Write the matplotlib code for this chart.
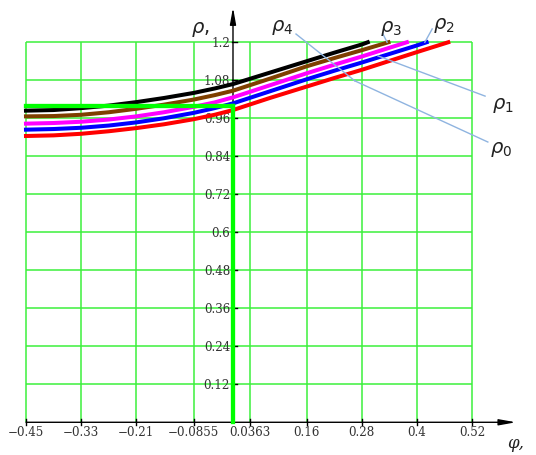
import matplotlib.pyplot as plt

# tick values
x_ticks = [-0.45, -0.33, -0.21, -0.0855, 0.0363, 0.16, 0.28, 0.4, 0.52]
y_ticks = [0.12, 0.24, 0.36, 0.48, 0.6, 0.72, 0.84, 0.96, 1.08, 1.2]

# curves (clipped at 1.2)
x4 = [-0.45, -0.39, -0.33, -0.27, -0.21, -0.15, -0.0855, -0.04, 0.0, 0.08, 0.16, 0.22, 0.28, 0.293]
rho4 = [0.984, 0.986, 0.992, 1.000, 1.011, 1.024, 1.040, 1.054, 1.068, 1.104, 1.140, 1.167, 1.193, 1.2]
x3 = [-0.45, -0.39, -0.33, -0.27, -0.21, -0.15, -0.0855, -0.04, 0.0, 0.08, 0.16, 0.22, 0.28, 0.338]
rho3 = [0.966, 0.967, 0.971, 0.979, 0.990, 1.003, 1.019, 1.033, 1.047, 1.085, 1.124, 1.150, 1.175, 1.2]
x2 = [-0.45, -0.39, -0.33, -0.27, -0.21, -0.15, -0.0855, -0.04, 0.0, 0.08, 0.16, 0.22, 0.28, 0.33, 0.378]
rho2 = [0.943, 0.945, 0.949, 0.956, 0.966, 0.979, 0.996, 1.010, 1.026, 1.064, 1.102, 1.129, 1.155, 1.178, 1.2]
x1 = [-0.45, -0.39, -0.33, -0.27, -0.21, -0.15, -0.0855, -0.04, 0.0, 0.08, 0.16, 0.22, 0.28, 0.34, 0.4, 0.421]
rho1 = [0.924, 0.926, 0.930, 0.937, 0.947, 0.960, 0.977, 0.992, 1.007, 1.045, 1.083, 1.110, 1.136, 1.163, 1.19, 1.2]
x0 = [-0.45, -0.39, -0.33, -0.27, -0.21, -0.15, -0.0855, -0.04, 0.0, 0.08, 0.16, 0.22, 0.28, 0.34, 0.4, 0.468]
rho0 = [0.904, 0.906, 0.911, 0.919, 0.929, 0.941, 0.957, 0.971, 0.986, 1.024, 1.060, 1.087, 1.113, 1.141, 1.169, 1.2]

# green boundary lines
bound_level = 1.0
bound_x = 0.0

plt.rcParams['mathtext.fontset'] = 'dejavusans'

fig = plt.figure(figsize=(5.36, 4.56), dpi=100)
ax = fig.add_axes([0, 0, 1, 1])
ax.set_xlim(-0.5065, 0.6587)
ax.set_ylim(-0.1033, 1.3366)
ax.axis('off')

grid_c = '#3cf03c'
ax.vlines(x_ticks, 0, 1.2, color=grid_c, lw=1.1, zorder=1)
ax.hlines(y_ticks, x_ticks[0], x_ticks[-1], color=grid_c, lw=1.1, zorder=1)

# axes with arrows
ax.annotate('', xy=(0.615, 0), xytext=(-0.45, 0),
            arrowprops=dict(arrowstyle='-|>,head_length=1.0,head_width=0.18',
                            lw=1, color='black', shrinkA=0, shrinkB=0), zorder=2)
ax.annotate('', xy=(0, 1.31), xytext=(0, 0),
            arrowprops=dict(arrowstyle='-|>,head_length=1.0,head_width=0.18',
                            lw=1, color='black', shrinkA=0, shrinkB=0), zorder=2)

# tick marks and labels
for t in x_ticks:
    ax.plot([t, t], [-0.01, 0.01], color='black', lw=1, zorder=2)
    ax.text(t, -0.03, f'{t:g}'.replace('-', '\u2212'), ha='center', va='center',
            fontsize=8.6, family='DejaVu Serif', color='#333333')
for t in y_ticks:
    ax.plot([-0.002, 0.008], [t, t], color='black', lw=1, zorder=2)
    ax.text(-0.0065, t, f'{t:g}', ha='right', va='center',
            fontsize=8.6, family='DejaVu Serif', color='#333333', zorder=3)

# curves
ax.plot(x4, rho4, color='black', lw=2.9, zorder=4)
ax.plot(x3, rho3, color='#7f3f00', lw=2.9, zorder=4)
ax.plot(x2, rho2, color='#ff00ff', lw=2.9, zorder=4)
ax.plot(x1, rho1, color='#0000ff', lw=2.9, zorder=4)
ax.plot(x0, rho0, color='#ff0000', lw=2.9, zorder=4)

# green boundary
ax.plot([x_ticks[0], bound_x], [bound_level, bound_level], color='#00ff00', lw=3.1, zorder=5)
ax.plot([bound_x, bound_x], [0, bound_level], color='#00ff00', lw=3.1, zorder=5)

# leader lines
lead_c = '#8fb4e0'
for (xa, ya), (xb, yb) in [((0.137, 1.226), (0.265, 1.078)),
                           ((0.265, 1.078), (0.554, 0.885)),
                           ((0.315, 1.157), (0.548, 1.03)),
                           ((0.326, 1.226), (0.335, 1.2)),
                           ((0.433, 1.242), (0.417, 1.2))]:
    ax.plot([xa, xb], [ya, yb], color=lead_c, lw=1, zorder=6)

# labels
lab = dict(fontsize=14, ha='left', va='center', color='#222222', zorder=7)
ax.text(0.0826, 1.251, r'$\rho_4$', **lab)
ax.text(0.3196, 1.248, r'$\rho_3$', **lab)
ax.text(0.4348, 1.255, r'$\rho_2$', **lab)
ax.text(0.563, 1.005, r'$\rho_1$', **lab)
ax.text(0.5587, 0.863, r'$\rho_0$', **lab)
ax.text(-0.0913, 1.245, r'$\rho$,', **lab)
ax.text(0.5957, -0.038, '\u03c6,', fontsize=12, ha='left', va='top',
        family='DejaVu Serif', style='italic', color='#222222')

plt.savefig('out.png', dpi=100)
